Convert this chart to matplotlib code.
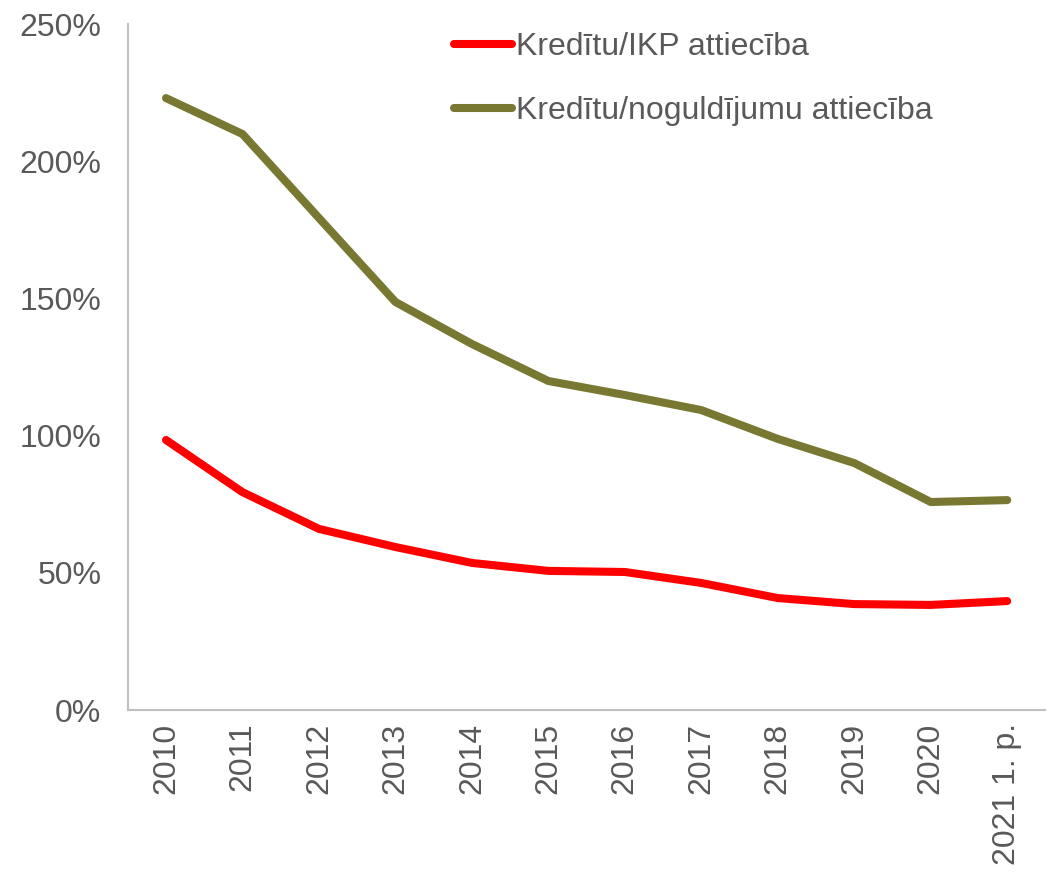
import numpy as np
import matplotlib.pyplot as plt
from matplotlib.ticker import FuncFormatter

## Data
years = ["2010", "2011", "2012", "2013", "2014", "2015", "2016",
         "2017", "2018", "2019", "2020", "2021 1. p."]
credit_gdp = [98.4, 79.4, 66.0, 59.4, 53.6, 50.7, 50.3, 46.3, 40.8, 38.6, 38.3, 39.7]
credit_dep = [223.0, 209.9, 179.3, 148.7, 133.4, 119.9, 114.8, 109.3, 98.8, 90.0, 75.8, 76.5]

plt.rcParams['font.family'] = ['Liberation Sans', 'DejaVu Sans']
txt = "#595959"

fig = plt.figure(figsize=(10.56, 8.73), dpi=100)
ax = fig.add_axes([0.121, 0.1867, 0.869, 0.7858])

x = np.arange(len(years))
ax.plot(x, credit_gdp, color="#FF0000", lw=5.8, solid_capstyle="round",
        label="Kredītu/IKP attiecība")
ax.plot(x, credit_dep, color="#787832", lw=5.8, solid_capstyle="round",
        label="Kredītu/noguldījumu attiecība")

ax.set_xlim(-0.5, len(years) - 0.5)
ax.set_ylim(0, 250)
ax.set_yticks(np.arange(0, 251, 50))
ax.yaxis.set_major_formatter(FuncFormatter(lambda v, p: "%d%%" % v))
ax.set_xticks(x)
ax.set_xticklabels(years, rotation=90)
ax.tick_params(length=0, labelsize=23, colors=txt, pad=9)
ax.tick_params(axis="y", pad=19)

for s in ["top", "right"]:
    ax.spines[s].set_visible(False)
for s in ["left", "bottom"]:
    ax.spines[s].set_color("#BFBFBF")
    ax.spines[s].set_linewidth(1.5)

leg = ax.legend(loc="upper left", bbox_to_anchor=(0.356, 0.988), frameon=False,
                fontsize=23, handlelength=1.8, handletextpad=0.12,
                labelspacing=1.05, borderpad=0, borderaxespad=0)
for t in leg.get_texts():
    t.set_color(txt)

fig.savefig("out.png", dpi=100)
